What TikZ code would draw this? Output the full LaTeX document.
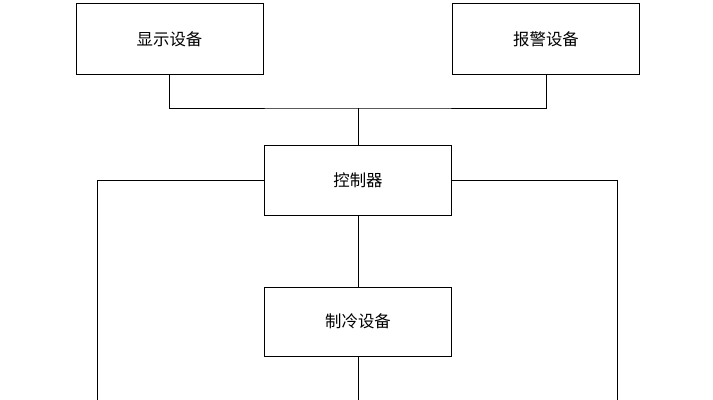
\documentclass[tikz,border=0pt]{standalone}
\usepackage{fontspec}
\newfontfamily\cjk{Noto Sans CJK SC}
\usetikzlibrary{positioning}
\begin{document}
\begin{tikzpicture}[x=0.03cm,y=-0.03cm, thick]
  \tikzset{unit/.style={draw,minimum width=5.61cm,minimum height=2.13cm,font=\cjk\fontsize{14}{16}\selectfont}}
  \useasboundingbox (0,0) rectangle (713,400);
  \draw (169.5,39) node[unit,name=disp] {显示设备};
  \draw (546,39) node[unit,name=alarm] {报警设备};
  \draw (358,180) node[unit,minimum height=2.1cm,name=ctrl] {控制器};
  \draw (358,321.5) node[unit,minimum height=2.07cm,name=cool] {制冷设备};
  % bus
  \coordinate (bus) at (358,108);
  \draw (disp.south) |- (bus) -| (alarm.south);
  \draw (bus) -- (ctrl.north);
  \draw (ctrl.south) -- (cool.north);
  \coordinate (lend) at (97,400);
  \coordinate (rend) at (617,400);
  \coordinate (mend) at (358,400);
  \draw (ctrl.west) -| (lend);
  \draw (ctrl.east) -| (rend);
  \draw (cool.south) -- (mend);
\end{tikzpicture}
\end{document}
